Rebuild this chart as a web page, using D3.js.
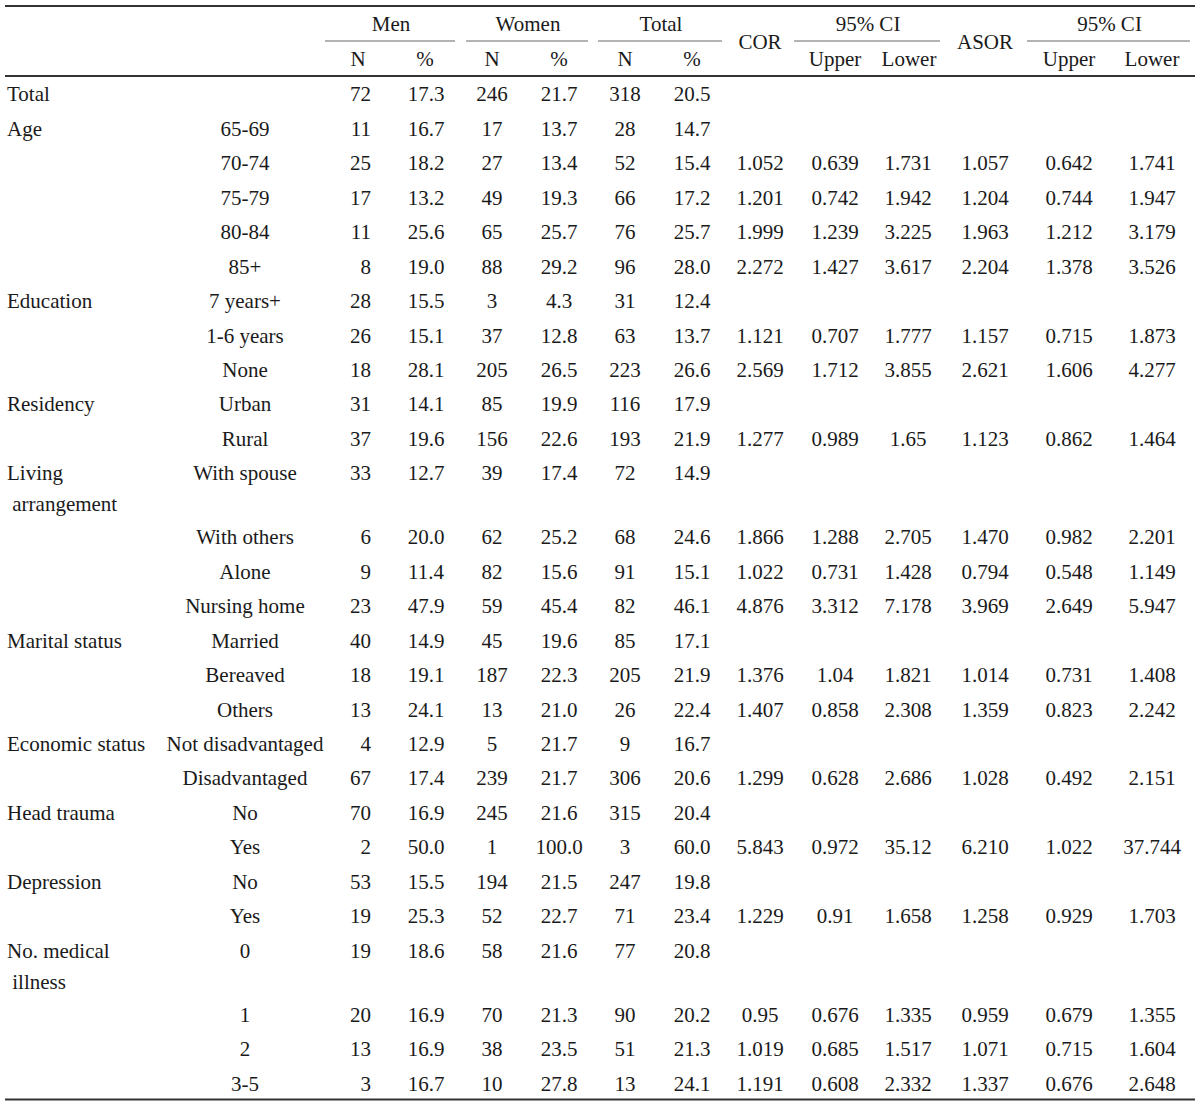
<!DOCTYPE html>
<html lang="en">
<head>
  <meta charset="UTF-8">
  <title>Table</title>
  <style>
    body { margin: 0; background: #fff; }
    svg text { font-family: "Liberation Serif", "DejaVu Serif", serif; font-size: 21px; fill: #1a1a1a; }
  </style>
</head>
<body>
  <svg class="table"></svg>
  <script src="https://cdn.jsdelivr.net/npm/d3@7/dist/d3.min.js"></script>
  <script>
    // row labels
    var rowGroup = [["Total"], ["Age"], [], [], [], [], ["Education"], [], [], ["Residency"], [],
      ["Living", " arrangement"], [], [], [], ["Marital status"], [], [], ["Economic status"], [],
      ["Head trauma"], [], ["Depression"], [], ["No. medical", " illness"], [], [], []];
    var subCat = ["", "65-69", "70-74", "75-79", "80-84", "85+", "7 years+", "1-6 years", "None", "Urban", "Rural",
      "With spouse", "With others", "Alone", "Nursing home", "Married", "Bereaved", "Others",
      "Not disadvantaged", "Disadvantaged", "No", "Yes", "No", "Yes", "0", "1", "2", "3-5"];

    // values
    var menN = [72, 11, 25, 17, 11, 8, 28, 26, 18, 31, 37, 33, 6, 9, 23, 40, 18, 13, 4, 67, 70, 2, 53, 19, 19, 20, 13, 3];
    var menPct = ["17.3", "16.7", "18.2", "13.2", "25.6", "19.0", "15.5", "15.1", "28.1", "14.1", "19.6", "12.7", "20.0", "11.4",
      "47.9", "14.9", "19.1", "24.1", "12.9", "17.4", "16.9", "50.0", "15.5", "25.3", "18.6", "16.9", "16.9", "16.7"];
    var womenN = [246, 17, 27, 49, 65, 88, 3, 37, 205, 85, 156, 39, 62, 82, 59, 45, 187, 13, 5, 239, 245, 1, 194, 52, 58, 70, 38, 10];
    var womenPct = ["21.7", "13.7", "13.4", "19.3", "25.7", "29.2", "4.3", "12.8", "26.5", "19.9", "22.6", "17.4", "25.2", "15.6",
      "45.4", "19.6", "22.3", "21.0", "21.7", "21.7", "21.6", "100.0", "21.5", "22.7", "21.6", "21.3", "23.5", "27.8"];
    var totalN = [318, 28, 52, 66, 76, 96, 31, 63, 223, 116, 193, 72, 68, 91, 82, 85, 205, 26, 9, 306, 315, 3, 247, 71, 77, 90, 51, 13];
    var totalPct = ["20.5", "14.7", "15.4", "17.2", "25.7", "28.0", "12.4", "13.7", "26.6", "17.9", "21.9", "14.9", "24.6", "15.1",
      "46.1", "17.1", "21.9", "22.4", "16.7", "20.6", "20.4", "60.0", "19.8", "23.4", "20.8", "20.2", "21.3", "24.1"];
    var cor = ["", "", "1.052", "1.201", "1.999", "2.272", "", "1.121", "2.569", "", "1.277", "", "1.866", "1.022", "4.876",
      "", "1.376", "1.407", "", "1.299", "", "5.843", "", "1.229", "", "0.95", "1.019", "1.191"];
    var corUpper = ["", "", "0.639", "0.742", "1.239", "1.427", "", "0.707", "1.712", "", "0.989", "", "1.288", "0.731", "3.312",
      "", "1.04", "0.858", "", "0.628", "", "0.972", "", "0.91", "", "0.676", "0.685", "0.608"];
    var corLower = ["", "", "1.731", "1.942", "3.225", "3.617", "", "1.777", "3.855", "", "1.65", "", "2.705", "1.428", "7.178",
      "", "1.821", "2.308", "", "2.686", "", "35.12", "", "1.658", "", "1.335", "1.517", "2.332"];
    var asor = ["", "", "1.057", "1.204", "1.963", "2.204", "", "1.157", "2.621", "", "1.123", "", "1.470", "0.794", "3.969",
      "", "1.014", "1.359", "", "1.028", "", "6.210", "", "1.258", "", "0.959", "1.071", "1.337"];
    var asorUpper = ["", "", "0.642", "0.744", "1.212", "1.378", "", "0.715", "1.606", "", "0.862", "", "0.982", "0.548", "2.649",
      "", "0.731", "0.823", "", "0.492", "", "1.022", "", "0.929", "", "0.679", "0.715", "0.676"];
    var asorLower = ["", "", "1.741", "1.947", "3.179", "3.526", "", "1.873", "4.277", "", "1.464", "", "2.201", "1.149", "5.947",
      "", "1.408", "2.242", "", "2.151", "", "37.744", "", "1.703", "", "1.355", "1.604", "2.648"];

    // header labels
    var groupHeads = ["Men", "Women", "Total", "95% CI", "95% CI"];
    var subHeads = ["N", "%", "N", "%", "N", "%", "Upper", "Lower", "Upper", "Lower"];

    var svgWidth = 1200, svgHeight = 1104;
    var rowH = 34.45, extraLine = 29.5, headLine = 76;

    var svg = d3.select("svg")
      .attr("width", svgWidth)
      .attr("height", svgHeight);

    // column x positions
    var colKeys = ["menN", "menPct", "womenN", "womenPct", "totalN", "totalPct", "cor", "corUp", "corLow", "asor", "asorUp", "asorLow"];
    var xCol = d3.scaleOrdinal()
      .domain(colKeys)
      .range([371, 426, 492, 559, 625, 692, 760, 835, 908, 985, 1069, 1152]);
    var columns = [menN, menPct, womenN, womenPct, totalN, totalPct, cor, corUpper, corLower, asor, asorUpper, asorLower];

    // row tops from cumulative heights
    var rowTops = [];
    var acc = 0;
    rowGroup.forEach(function (g) {
      rowTops.push(acc);
      acc += rowH + (g.length > 1 ? extraLine : 0);
    });
    var y = d3.scaleLinear().domain([0, acc]).range([headLine, headLine + acc]);

    // rules
    var rules = [
      { y: 6, w: 2 }, { y: headLine, w: 2 }, { y: headLine + acc, w: 2 }
    ];
    svg.selectAll("line.rule")
      .data(rules)
      .enter()
      .append("line")
      .attr("x1", 5).attr("x2", 1195)
      .attr("y1", d => d.y).attr("y2", d => d.y)
      .attr("stroke", "#333")
      .attr("stroke-width", d => d.w);

    var spans = [[325, 455], [466, 588], [598, 722], [794, 940], [1027, 1190]];
    svg.selectAll("line.span")
      .data(spans)
      .enter()
      .append("line")
      .attr("x1", d => d[0]).attr("x2", d => d[1])
      .attr("y1", 41).attr("y2", 41)
      .attr("stroke", "#9a9a9a")
      .attr("stroke-width", 1.3);

    // header text
    svg.selectAll("text.ghead")
      .data(groupHeads)
      .enter()
      .append("text")
      .attr("x", (d, i) => (spans[i][0] + spans[i][1]) / 2 + 1)
      .attr("y", 24)
      .attr("dy", "0.35em")
      .attr("text-anchor", "middle")
      .text(d => d);

    var subX = [358, 425, 492, 559, 625, 692, 835, 909, 1069, 1152];
    svg.selectAll("text.shead")
      .data(subHeads)
      .enter()
      .append("text")
      .attr("x", (d, i) => subX[i])
      .attr("y", 59)
      .attr("dy", "0.35em")
      .attr("text-anchor", "middle")
      .text(d => d);

    svg.append("text").attr("x", 760).attr("y", 42).attr("dy", "0.35em")
      .attr("text-anchor", "middle").text("COR");
    svg.append("text").attr("x", 985).attr("y", 42).attr("dy", "0.35em")
      .attr("text-anchor", "middle").text("ASOR");

    // body rows
    var rows = svg.selectAll("g.row")
      .data(rowGroup)
      .enter()
      .append("g")
      .attr("transform", (d, i) => "translate(0," + (y(rowTops[i]) + 18) + ")");

    rows.selectAll("text.grp")
      .data(d => d)
      .enter()
      .append("text")
      .attr("x", 7)
      .attr("y", (d, j) => j * 31)
      .attr("dy", "0.35em")
      .attr("xml:space", "preserve")
      .style("white-space", "pre")
      .text(d => d);

    rows.append("text")
      .attr("x", 245)
      .attr("dy", "0.35em")
      .attr("text-anchor", "middle")
      .text((d, i) => subCat[i]);

    colKeys.forEach(function (k, c) {
      rows.append("text")
        .attr("x", xCol(k))
        .attr("dy", "0.35em")
        .attr("text-anchor", k === "menN" ? "end" : "middle")
        .text((d, i) => columns[c][i]);
    });
  </script>
</body>
</html>
